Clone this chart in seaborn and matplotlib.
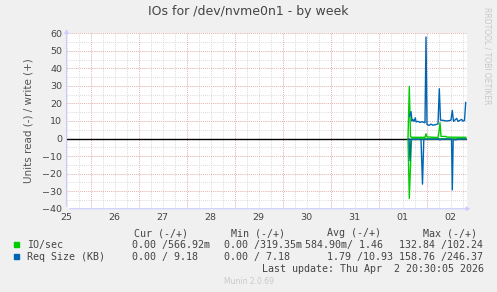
import matplotlib
matplotlib.use("Agg")
import matplotlib.pyplot as plt
import seaborn as sns
import pandas as pd
import numpy as np

sns.set_theme(style="white")
plt.rcParams['font.family'] = ['DejaVu Sans']

# ---- data (hours since Mar 25 12:00) ----
day_labels = ["25", "26", "27", "28", "29", "30", "31", "01", "02"]

io_write_t = [170.75, 171.4, 172.0, 172.75, 179.25, 179.75, 180.25, 185.75, 186.25,
              186.75, 187.25, 189.75, 190.25, 199.75]
io_write_v = [0, 29.7, 1.0, 0.7, 0.7, 2.7, 0.9, 0.6, 4.0, 9.0, 1.2, 1.2, 0.8, 0.7]

io_read_t = [170.75, 171.4, 172.5, 199.75]
io_read_v = [0, -34.1, -0.2, -0.2]

req_write_t = [171.5, 172.25, 172.75, 173.25, 173.75, 174.4, 174.75, 175.75, 176.75,
               177.75, 179.25, 179.75, 180.25, 181.25, 182.25, 183.25, 184.75, 185.75,
               186.4, 187.0, 188.25, 189.75, 191.25, 192.25, 192.9, 193.5, 194.25,
               195.1, 195.75, 196.75, 197.6, 198.25, 199.0, 199.6]
req_write_v = [12.6, 15.4, 10.0, 10.8, 9.8, 11.8, 9.5, 9.8, 9.2,
               9.6, 9.0, 57.9, 8.0, 7.5, 8.2, 7.6, 8.0, 8.3,
               28.4, 10.5, 10.4, 10.0, 10.2, 10.5, 16.0, 9.8, 10.6,
               11.5, 9.8, 10.4, 10.9, 9.9, 10.3, 20.7]

req_read_t = [171.25, 171.75, 172.25, 177.25, 178.0, 178.65, 186.25, 186.75, 187.25,
              192.5, 192.9, 193.35, 194.75, 195.25, 199.75]
req_read_v = [0, -12.6, -0.5, -0.4, -26.0, -0.4, -0.3, -0.8, -0.3,
              -0.3, -29.3, -0.4, -0.8, -0.3, -0.3]

legend_cols = ["Cur (-/+)", "Min (-/+)", "Avg (-/+)", "Max (-/+)"]
io_stats = ["0.00 /566.92m", "0.00 /319.35m", "584.90m/ 1.46", "132.84 /102.24"]
req_stats = ["0.00 / 9.18", "0.00 / 7.18", "1.79 /10.93", "158.76 /246.37"]

GREEN = "#00cc00"
BLUE = "#0066b3"

W, H = 497, 292
fig = plt.figure(figsize=(W / 100, H / 100), dpi=100)
fig.patch.set_facecolor("#f0f0f0")

left, right, top, bottom = 66.5, 466.5, 33.3, 208.7
ax = fig.add_axes([left / W, 1 - bottom / H, (right - left) / W, (bottom - top) / H])
ax.set_facecolor("white")

ax.set_xlim(0, 200)
ax.set_ylim(-40, 60)

# grid
for x in np.arange(0, 201, 6):
    ax.axvline(x, color="#cfcfcf", lw=0.6, ls=(0, (1, 1.5)), zorder=0)
for y in np.arange(-40, 61, 5):
    ax.axhline(y, color="#cfcfcf", lw=0.6, ls=(0, (1, 1.5)), zorder=0)
for x in np.arange(12, 201, 24):
    ax.axvline(x, color="#f0a8a8", lw=0.6, ls=(0, (1, 1.5)), zorder=0.5)
for y in np.arange(-40, 61, 10):
    ax.axhline(y, color="#f0a8a8", lw=0.6, ls=(0, (1, 1.5)), zorder=0.5)

ax.axhline(0, color="black", lw=1.0, zorder=1)

series = [
    (io_write_t, io_write_v, GREEN),
    (io_read_t, io_read_v, GREEN),
    (req_write_t, req_write_v, BLUE),
    (req_read_t, req_read_v, BLUE),
]
for t, v, c in series:
    df = pd.DataFrame({"t": t, "v": v})
    sns.lineplot(data=df, x="t", y="v", ax=ax, color=c, lw=1.0, zorder=3,
                 estimator=None, sort=False)

ax.set_xlabel("")
ax.set_ylabel("Units read (-) / write (+)", fontsize=7.5, color="#555555", labelpad=6)
ax.set_xticks(np.arange(0, 24 * len(day_labels), 24))
ax.set_xticklabels(day_labels)
ax.set_yticks(np.arange(-40, 61, 10))
ax.tick_params(axis="both", labelsize=6.8, colors="#555555", length=0, pad=3)
for lab in ax.get_xticklabels() + ax.get_yticklabels():
    lab.set_color("#444444")
for s in ax.spines.values():
    s.set_visible(False)

# axis lines with arrows
ax.annotate("", xy=(0, 1.04), xytext=(0, 0), xycoords="axes fraction",
            arrowprops=dict(arrowstyle="-|>", color="#ccccff", lw=0.8,
                            mutation_scale=6), annotation_clip=False)
ax.annotate("", xy=(1.017, 0), xytext=(0, 0), xycoords="axes fraction",
            arrowprops=dict(arrowstyle="-|>", color="#ccccff", lw=0.8,
                            mutation_scale=6), annotation_clip=False)

def fx(px):
    return px / W

def fy(py):
    return 1 - py / H

fig.text(0.5, fy(12), "IOs for /dev/nvme0n1 - by week", ha="center", va="center",
         fontsize=9, color="#444444")
fig.text(fx(486.7), fy(56), "RRDTOOL / TOBI OETIKER", rotation=270, ha="center",
         va="center", fontsize=5.5, color="#c8c8c8")

mono = dict(family="DejaVu Sans Mono", fontsize=7.2, color="#444444", va="center")
hy, r1, r2, r3 = 233.3, 244.6, 256.7, 269.0
for px, txt in zip([134.3, 230.7, 326.7, 422.7], legend_cols):
    fig.text(fx(px), fy(hy), txt, **mono)

fig.patches.append(plt.Rectangle((fx(14), fy(247.2)), 5 / W, 5 / H,
                                 transform=fig.transFigure, color=GREEN))
fig.patches.append(plt.Rectangle((fx(14), fy(259.2)), 5 / W, 5 / H,
                                 transform=fig.transFigure, color=BLUE))

fig.text(fx(26.7), fy(r1), "IO/sec", **mono)
for px, txt in zip([131.7, 224, 305, 399], io_stats):
    fig.text(fx(px), fy(r1), txt, **mono)

fig.text(fx(26.7), fy(r2), "Req Size (KB)", **mono)
for px, txt in zip([131.7, 224, 326.7, 399], req_stats):
    fig.text(fx(px), fy(r2), txt, **mono)

fig.text(fx(261.7), fy(r3), "Last update: Thu Apr  2 20:30:05 2026", **mono)
fig.text(fx(248.5), fy(281.3), "Munin 2.0.69", ha="center", va="center",
         fontsize=5.5, color="#c8c8c8")

fig.savefig("out.png", dpi=100, facecolor=fig.get_facecolor())
